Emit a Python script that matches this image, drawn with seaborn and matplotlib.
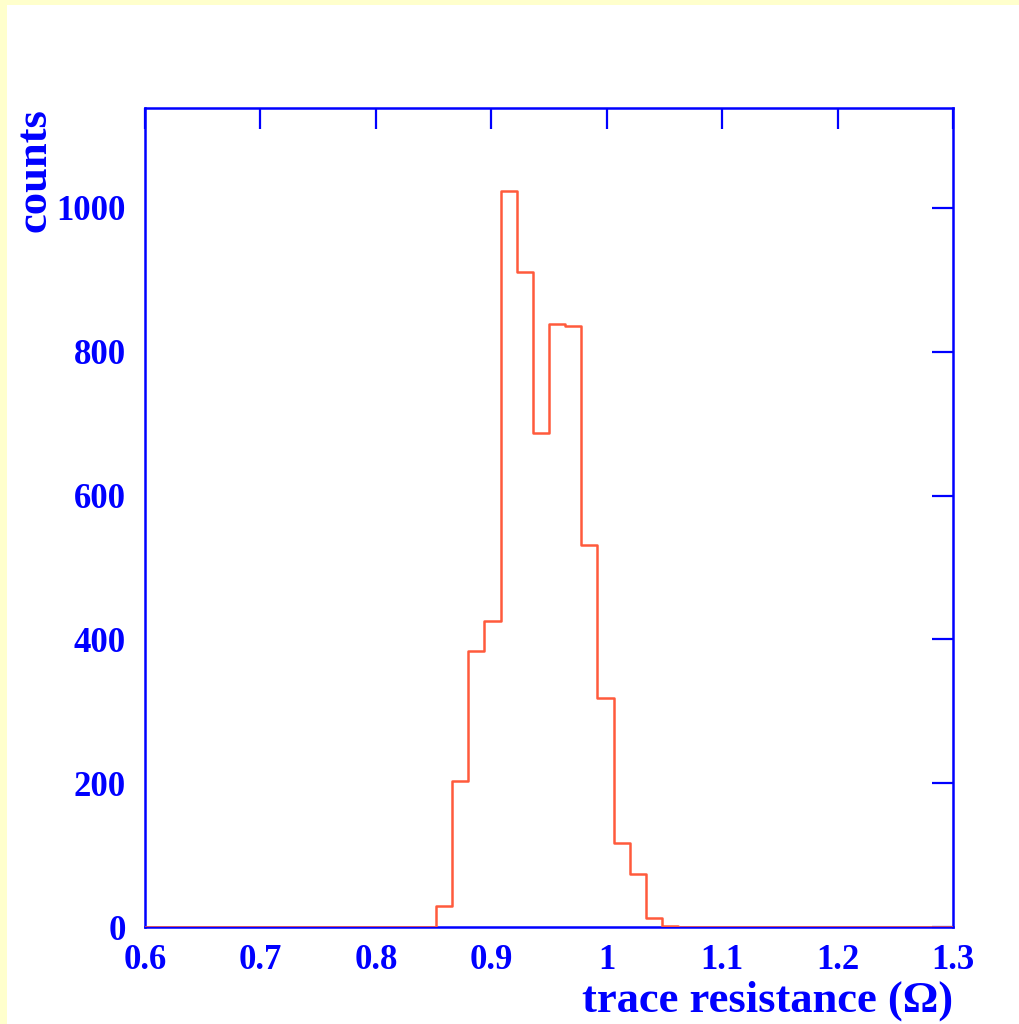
import numpy as np
import pandas as pd
import matplotlib
matplotlib.use("Agg")
import matplotlib.pyplot as plt
from matplotlib.patches import Rectangle
import seaborn as sns

# histogram: 50 bins between 0.6 and 1.3 ohm
range_lo = 0.6
range_hi = 1.3
n_bins = 50
counts = [0] * 18 + [29, 203, 384, 426, 1024, 911, 687, 839, 836, 531,
                     319, 117, 74, 13, 2] + [0] * 17

x_ticks = [0.6, 0.7, 0.8, 0.9, 1.0, 1.1, 1.2, 1.3]
x_tick_labels = ['0.6', '0.7', '0.8', '0.9', '1', '1.1', '1.2', '1.3']
y_ticks = [0, 200, 400, 600, 800, 1000]
y_tick_labels = ['0', '200', '400', '600', '800', '1000']

blue = '#0000ff'
red = '#ff5a3c'

sns.set_style("white")
plt.rcParams['font.family'] = ['Liberation Serif', 'DejaVu Serif']
plt.rcParams['font.weight'] = 'bold'

edges = np.linspace(range_lo, range_hi, n_bins + 1)
centers = (edges[:-1] + edges[1:]) / 2
df = pd.DataFrame({'resistance': centers, 'counts': counts})

fig = plt.figure(figsize=(10.2, 10.24), dpi=100)
fig.patch.set_facecolor('#ffffcc')
fig.patches.append(Rectangle((7 / 1020, 0), 1, 1 - 5 / 1024,
                             transform=fig.transFigure, facecolor='white',
                             edgecolor='none', zorder=-1))

ax = fig.add_axes([145 / 1020, 1 - 927 / 1024, 808 / 1020, 819 / 1024])
ax.set_facecolor('white')

sns.histplot(data=df, x='resistance', weights='counts', bins=n_bins,
             binrange=(range_lo, range_hi), element='step', fill=False,
             color=red, linewidth=1.8, ax=ax, zorder=3)

ax.set_xlim(range_lo, range_hi)
ax.set_ylim(0, 1139)
ax.set_xticks(x_ticks)
ax.set_xticklabels(x_tick_labels)
ax.set_yticks(y_ticks)
ax.set_yticklabels(y_tick_labels)

for s in ax.spines.values():
    s.set_color(blue)
    s.set_linewidth(1.8)

ax.tick_params(axis='both', direction='in', length=15, width=1.6,
               color=blue, labelcolor=blue, labelsize=25,
               top=True, right=True)
ax.tick_params(axis='x', pad=12)
ax.tick_params(axis='y', pad=14)

ax.set_xlabel('trace resistance (\u03a9)', loc='right', color=blue,
              fontsize=32, fontweight='bold', labelpad=3)
ax.set_ylabel('counts', loc='top', color=blue, fontsize=32,
              fontweight='bold', labelpad=1)

fig.savefig('out.png', dpi=100, facecolor=fig.get_facecolor())
